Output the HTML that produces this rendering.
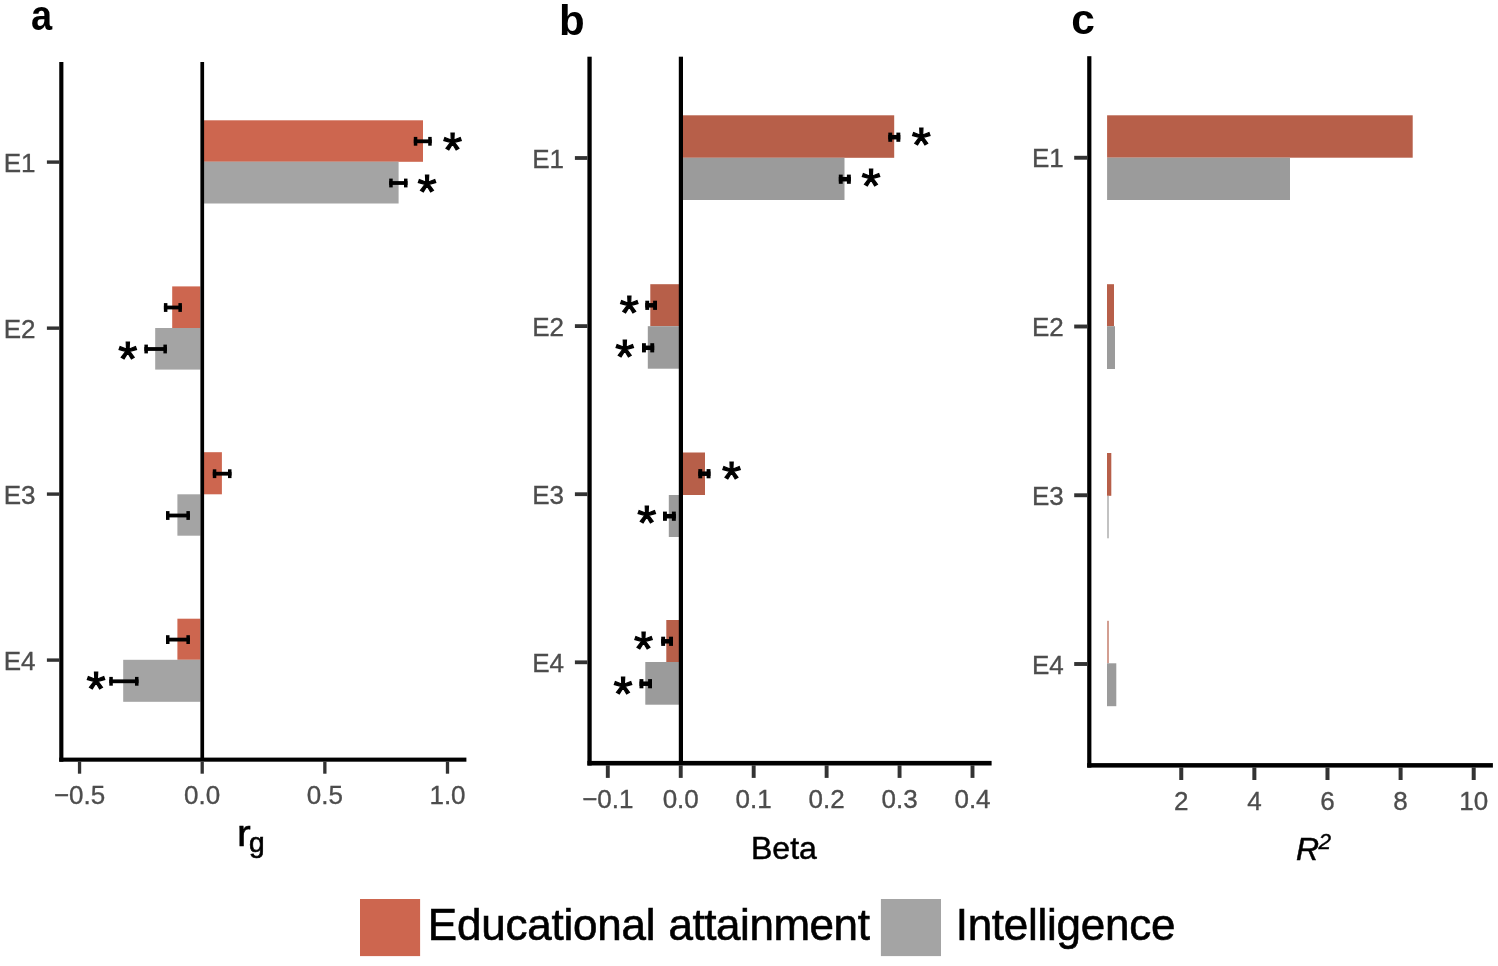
<!DOCTYPE html>
<html lang="en">
<head>
<meta charset="utf-8">
<title>Figure</title>
<style>
html,body{margin:0;padding:0;background:#fff;}
body{width:1498px;height:966px;overflow:hidden;}
svg{display:block;}
svg text{font-family:"Liberation Sans",sans-serif;}
</style>
</head>
<body>
<svg width="1498" height="966" viewBox="0 0 1498 966">
<rect x="0" y="0" width="1498" height="966" fill="#ffffff"/>
<text transform="translate(31.1,29.65) scale(0.894,1)" font-size="42.5" font-weight="bold" fill="#000">a</text>
<rect x="203.70" y="120.30" width="219.30" height="41.50" fill="#cd664f"/>
<rect x="203.70" y="161.70" width="194.90" height="41.80" fill="#a4a4a4"/>
<rect x="172.20" y="286.40" width="28.10" height="41.60" fill="#cd664f"/>
<rect x="155.20" y="328.00" width="45.10" height="41.60" fill="#a4a4a4"/>
<rect x="203.70" y="452.20" width="18.20" height="42.10" fill="#cd664f"/>
<rect x="177.40" y="494.30" width="22.90" height="41.40" fill="#a4a4a4"/>
<rect x="177.40" y="618.70" width="22.90" height="41.10" fill="#cd664f"/>
<rect x="123.20" y="659.80" width="77.10" height="42.00" fill="#a4a4a4"/>
<rect x="59.25" y="62.00" width="4.15" height="699.70" fill="#000"/>
<rect x="200.40" y="62.00" width="3.70" height="698.00" fill="#000"/>
<rect x="59.25" y="757.60" width="407.15" height="4.10" fill="#000"/>
<rect x="77.90" y="761.50" width="3.30" height="12.20" fill="#333333"/>
<rect x="200.55" y="761.50" width="3.30" height="12.20" fill="#333333"/>
<rect x="323.20" y="761.50" width="3.30" height="12.20" fill="#333333"/>
<rect x="445.85" y="761.50" width="3.30" height="12.20" fill="#333333"/>
<rect x="46.90" y="160.40" width="12.60" height="3.40" fill="#333333"/>
<rect x="46.90" y="326.45" width="12.60" height="3.40" fill="#333333"/>
<rect x="46.90" y="492.40" width="12.60" height="3.40" fill="#333333"/>
<rect x="46.90" y="658.40" width="12.60" height="3.40" fill="#333333"/>
<text x="35.60" y="171.50" font-size="26" text-anchor="end" fill="#4d4d4d" font-weight="normal" font-style="normal" stroke="#4d4d4d" stroke-width="0.35">E1</text>
<text x="35.60" y="337.55" font-size="26" text-anchor="end" fill="#4d4d4d" font-weight="normal" font-style="normal" stroke="#4d4d4d" stroke-width="0.35">E2</text>
<text x="35.60" y="503.50" font-size="26" text-anchor="end" fill="#4d4d4d" font-weight="normal" font-style="normal" stroke="#4d4d4d" stroke-width="0.35">E3</text>
<text x="35.60" y="669.50" font-size="26" text-anchor="end" fill="#4d4d4d" font-weight="normal" font-style="normal" stroke="#4d4d4d" stroke-width="0.35">E4</text>
<text x="79.55" y="803.80" font-size="26" text-anchor="middle" fill="#4d4d4d" font-weight="normal" font-style="normal" stroke="#4d4d4d" stroke-width="0.35">−0.5</text>
<text x="202.20" y="803.80" font-size="26" text-anchor="middle" fill="#4d4d4d" font-weight="normal" font-style="normal" stroke="#4d4d4d" stroke-width="0.35">0.0</text>
<text x="324.85" y="803.80" font-size="26" text-anchor="middle" fill="#4d4d4d" font-weight="normal" font-style="normal" stroke="#4d4d4d" stroke-width="0.35">0.5</text>
<text x="447.50" y="803.80" font-size="26" text-anchor="middle" fill="#4d4d4d" font-weight="normal" font-style="normal" stroke="#4d4d4d" stroke-width="0.35">1.0</text>
<rect x="413.80" y="139.40" width="17.90" height="3.80" fill="#000"/>
<rect x="413.80" y="136.90" width="3.50" height="8.80" fill="#000"/>
<rect x="428.20" y="136.90" width="3.50" height="8.80" fill="#000"/>
<rect x="389.20" y="181.10" width="18.30" height="3.80" fill="#000"/>
<rect x="389.20" y="178.60" width="3.50" height="8.80" fill="#000"/>
<rect x="404.00" y="178.60" width="3.50" height="8.80" fill="#000"/>
<rect x="163.90" y="305.60" width="18.00" height="3.80" fill="#000"/>
<rect x="163.90" y="303.10" width="3.50" height="8.80" fill="#000"/>
<rect x="178.40" y="303.10" width="3.50" height="8.80" fill="#000"/>
<rect x="144.40" y="347.10" width="22.50" height="3.80" fill="#000"/>
<rect x="144.40" y="344.60" width="3.50" height="8.80" fill="#000"/>
<rect x="163.40" y="344.60" width="3.50" height="8.80" fill="#000"/>
<rect x="212.80" y="471.80" width="18.70" height="3.80" fill="#000"/>
<rect x="212.80" y="469.30" width="3.50" height="8.80" fill="#000"/>
<rect x="228.00" y="469.30" width="3.50" height="8.80" fill="#000"/>
<rect x="166.00" y="513.60" width="23.90" height="3.80" fill="#000"/>
<rect x="166.00" y="511.10" width="3.50" height="8.80" fill="#000"/>
<rect x="186.40" y="511.10" width="3.50" height="8.80" fill="#000"/>
<rect x="166.00" y="637.70" width="23.90" height="3.80" fill="#000"/>
<rect x="166.00" y="635.20" width="3.50" height="8.80" fill="#000"/>
<rect x="186.40" y="635.20" width="3.50" height="8.80" fill="#000"/>
<rect x="109.30" y="679.40" width="29.20" height="3.80" fill="#000"/>
<rect x="109.30" y="676.90" width="3.50" height="8.80" fill="#000"/>
<rect x="135.00" y="676.90" width="3.50" height="8.80" fill="#000"/>
<text x="452.65" y="165.85" font-size="49" text-anchor="middle" fill="#000" font-weight="normal" font-style="normal" stroke="#000" stroke-width="1.2" stroke-linejoin="miter">*</text>
<text x="427.15" y="207.50" font-size="49" text-anchor="middle" fill="#000" font-weight="normal" font-style="normal" stroke="#000" stroke-width="1.2" stroke-linejoin="miter">*</text>
<text x="127.85" y="374.70" font-size="49" text-anchor="middle" fill="#000" font-weight="normal" font-style="normal" stroke="#000" stroke-width="1.2" stroke-linejoin="miter">*</text>
<text x="96.15" y="704.75" font-size="49" text-anchor="middle" fill="#000" font-weight="normal" font-style="normal" stroke="#000" stroke-width="1.2" stroke-linejoin="miter">*</text>
<text transform="translate(237.0,845.5) scale(1.1,1)" font-size="37.5" fill="#000" stroke="#000" stroke-width="0.55">r</text>
<text x="249.0" y="851.8" font-size="28" fill="#000" stroke="#000" stroke-width="0.7">g</text>
<text x="559.00" y="34.85" font-size="42" text-anchor="start" fill="#000" font-weight="bold" font-style="normal">b</text>
<rect x="683.00" y="115.30" width="211.20" height="42.50" fill="#b75f49"/>
<rect x="683.00" y="157.80" width="161.50" height="42.20" fill="#9b9b9b"/>
<rect x="650.30" y="284.20" width="28.70" height="42.00" fill="#b75f49"/>
<rect x="647.80" y="326.20" width="31.20" height="42.50" fill="#9b9b9b"/>
<rect x="683.00" y="452.50" width="22.00" height="42.50" fill="#b75f49"/>
<rect x="668.80" y="495.00" width="10.20" height="42.00" fill="#9b9b9b"/>
<rect x="666.30" y="620.00" width="12.70" height="42.00" fill="#b75f49"/>
<rect x="645.30" y="662.00" width="33.70" height="42.70" fill="#9b9b9b"/>
<rect x="587.40" y="56.70" width="4.30" height="708.80" fill="#000"/>
<rect x="678.80" y="56.70" width="4.20" height="707.30" fill="#000"/>
<rect x="587.40" y="760.90" width="404.20" height="4.60" fill="#000"/>
<rect x="605.85" y="765.30" width="3.90" height="12.60" fill="#333333"/>
<rect x="678.79" y="765.30" width="3.90" height="12.60" fill="#333333"/>
<rect x="751.73" y="765.30" width="3.90" height="12.60" fill="#333333"/>
<rect x="824.67" y="765.30" width="3.90" height="12.60" fill="#333333"/>
<rect x="897.61" y="765.30" width="3.90" height="12.60" fill="#333333"/>
<rect x="970.55" y="765.30" width="3.90" height="12.60" fill="#333333"/>
<rect x="574.90" y="156.10" width="12.60" height="3.80" fill="#333333"/>
<rect x="574.90" y="324.20" width="12.60" height="3.80" fill="#333333"/>
<rect x="574.90" y="492.30" width="12.60" height="3.80" fill="#333333"/>
<rect x="574.90" y="660.40" width="12.60" height="3.80" fill="#333333"/>
<text x="564.05" y="167.70" font-size="26" text-anchor="end" fill="#4d4d4d" font-weight="normal" font-style="normal" stroke="#4d4d4d" stroke-width="0.35">E1</text>
<text x="564.05" y="335.80" font-size="26" text-anchor="end" fill="#4d4d4d" font-weight="normal" font-style="normal" stroke="#4d4d4d" stroke-width="0.35">E2</text>
<text x="564.05" y="503.90" font-size="26" text-anchor="end" fill="#4d4d4d" font-weight="normal" font-style="normal" stroke="#4d4d4d" stroke-width="0.35">E3</text>
<text x="564.05" y="672.00" font-size="26" text-anchor="end" fill="#4d4d4d" font-weight="normal" font-style="normal" stroke="#4d4d4d" stroke-width="0.35">E4</text>
<text x="607.80" y="807.80" font-size="26" text-anchor="middle" fill="#4d4d4d" font-weight="normal" font-style="normal" stroke="#4d4d4d" stroke-width="0.35">−0.1</text>
<text x="680.74" y="807.80" font-size="26" text-anchor="middle" fill="#4d4d4d" font-weight="normal" font-style="normal" stroke="#4d4d4d" stroke-width="0.35">0.0</text>
<text x="753.68" y="807.80" font-size="26" text-anchor="middle" fill="#4d4d4d" font-weight="normal" font-style="normal" stroke="#4d4d4d" stroke-width="0.35">0.1</text>
<text x="826.62" y="807.80" font-size="26" text-anchor="middle" fill="#4d4d4d" font-weight="normal" font-style="normal" stroke="#4d4d4d" stroke-width="0.35">0.2</text>
<text x="899.56" y="807.80" font-size="26" text-anchor="middle" fill="#4d4d4d" font-weight="normal" font-style="normal" stroke="#4d4d4d" stroke-width="0.35">0.3</text>
<text x="972.50" y="807.80" font-size="26" text-anchor="middle" fill="#4d4d4d" font-weight="normal" font-style="normal" stroke="#4d4d4d" stroke-width="0.35">0.4</text>
<rect x="888.30" y="134.95" width="12.00" height="4.50" fill="#000"/>
<rect x="888.30" y="132.60" width="3.90" height="9.20" fill="#000"/>
<rect x="896.40" y="132.60" width="3.90" height="9.20" fill="#000"/>
<rect x="838.80" y="176.95" width="12.00" height="4.50" fill="#000"/>
<rect x="838.80" y="174.60" width="3.90" height="9.20" fill="#000"/>
<rect x="846.90" y="174.60" width="3.90" height="9.20" fill="#000"/>
<rect x="645.30" y="303.05" width="11.70" height="4.50" fill="#000"/>
<rect x="645.30" y="300.70" width="3.90" height="9.20" fill="#000"/>
<rect x="653.10" y="300.70" width="3.90" height="9.20" fill="#000"/>
<rect x="642.00" y="345.55" width="12.20" height="4.50" fill="#000"/>
<rect x="642.00" y="343.20" width="3.90" height="9.20" fill="#000"/>
<rect x="650.30" y="343.20" width="3.90" height="9.20" fill="#000"/>
<rect x="698.30" y="471.45" width="12.20" height="4.50" fill="#000"/>
<rect x="698.30" y="469.10" width="3.90" height="9.20" fill="#000"/>
<rect x="706.60" y="469.10" width="3.90" height="9.20" fill="#000"/>
<rect x="663.00" y="513.95" width="12.80" height="4.50" fill="#000"/>
<rect x="663.00" y="511.60" width="3.90" height="9.20" fill="#000"/>
<rect x="671.90" y="511.60" width="3.90" height="9.20" fill="#000"/>
<rect x="661.20" y="639.05" width="11.80" height="4.50" fill="#000"/>
<rect x="661.20" y="636.70" width="3.90" height="9.20" fill="#000"/>
<rect x="669.10" y="636.70" width="3.90" height="9.20" fill="#000"/>
<rect x="639.50" y="681.45" width="12.50" height="4.50" fill="#000"/>
<rect x="639.50" y="679.10" width="3.90" height="9.20" fill="#000"/>
<rect x="648.10" y="679.10" width="3.90" height="9.20" fill="#000"/>
<text x="921.40" y="160.60" font-size="49" text-anchor="middle" fill="#000" font-weight="normal" font-style="normal" stroke="#000" stroke-width="1.2" stroke-linejoin="miter">*</text>
<text x="871.00" y="201.90" font-size="49" text-anchor="middle" fill="#000" font-weight="normal" font-style="normal" stroke="#000" stroke-width="1.2" stroke-linejoin="miter">*</text>
<text x="629.35" y="329.25" font-size="49" text-anchor="middle" fill="#000" font-weight="normal" font-style="normal" stroke="#000" stroke-width="1.2" stroke-linejoin="miter">*</text>
<text x="624.75" y="372.50" font-size="49" text-anchor="middle" fill="#000" font-weight="normal" font-style="normal" stroke="#000" stroke-width="1.2" stroke-linejoin="miter">*</text>
<text x="731.50" y="495.45" font-size="49" text-anchor="middle" fill="#000" font-weight="normal" font-style="normal" stroke="#000" stroke-width="1.2" stroke-linejoin="miter">*</text>
<text x="646.90" y="539.25" font-size="49" text-anchor="middle" fill="#000" font-weight="normal" font-style="normal" stroke="#000" stroke-width="1.2" stroke-linejoin="miter">*</text>
<text x="643.60" y="665.45" font-size="49" text-anchor="middle" fill="#000" font-weight="normal" font-style="normal" stroke="#000" stroke-width="1.2" stroke-linejoin="miter">*</text>
<text x="623.15" y="709.75" font-size="49" text-anchor="middle" fill="#000" font-weight="normal" font-style="normal" stroke="#000" stroke-width="1.2" stroke-linejoin="miter">*</text>
<text x="751.00" y="859.40" font-size="32" text-anchor="start" fill="#000" font-weight="normal" font-style="normal" stroke="#000" stroke-width="0.5">Beta</text>
<text x="1071.35" y="33.75" font-size="42.5" text-anchor="start" fill="#000" font-weight="bold" font-style="normal">c</text>
<rect x="1107.10" y="115.30" width="305.60" height="42.40" fill="#b75f49"/>
<rect x="1107.10" y="157.70" width="182.90" height="42.30" fill="#9b9b9b"/>
<rect x="1107.00" y="284.20" width="7.00" height="42.00" fill="#b75f49"/>
<rect x="1107.00" y="326.20" width="8.00" height="42.80" fill="#9b9b9b"/>
<rect x="1107.00" y="453.00" width="4.30" height="42.80" fill="#b75f49"/>
<rect x="1107.40" y="495.80" width="1.20" height="42.50" fill="#9b9b9b"/>
<rect x="1107.40" y="620.80" width="1.20" height="42.50" fill="#b75f49"/>
<rect x="1107.00" y="663.30" width="9.30" height="42.90" fill="#9b9b9b"/>
<rect x="1087.20" y="56.20" width="4.20" height="711.40" fill="#000"/>
<rect x="1087.20" y="763.10" width="405.70" height="4.50" fill="#000"/>
<rect x="1179.25" y="767.40" width="4.00" height="12.60" fill="#333333"/>
<rect x="1252.36" y="767.40" width="4.00" height="12.60" fill="#333333"/>
<rect x="1325.48" y="767.40" width="4.00" height="12.60" fill="#333333"/>
<rect x="1398.60" y="767.40" width="4.00" height="12.60" fill="#333333"/>
<rect x="1471.70" y="767.40" width="4.00" height="12.60" fill="#333333"/>
<rect x="1074.20" y="155.80" width="13.30" height="3.90" fill="#333333"/>
<rect x="1074.20" y="324.55" width="13.30" height="3.90" fill="#333333"/>
<rect x="1074.20" y="493.30" width="13.30" height="3.90" fill="#333333"/>
<rect x="1074.20" y="662.05" width="13.30" height="3.90" fill="#333333"/>
<text x="1063.85" y="167.45" font-size="26" text-anchor="end" fill="#4d4d4d" font-weight="normal" font-style="normal" stroke="#4d4d4d" stroke-width="0.35">E1</text>
<text x="1063.85" y="336.20" font-size="26" text-anchor="end" fill="#4d4d4d" font-weight="normal" font-style="normal" stroke="#4d4d4d" stroke-width="0.35">E2</text>
<text x="1063.85" y="504.95" font-size="26" text-anchor="end" fill="#4d4d4d" font-weight="normal" font-style="normal" stroke="#4d4d4d" stroke-width="0.35">E3</text>
<text x="1063.85" y="673.70" font-size="26" text-anchor="end" fill="#4d4d4d" font-weight="normal" font-style="normal" stroke="#4d4d4d" stroke-width="0.35">E4</text>
<text x="1181.25" y="809.90" font-size="26" text-anchor="middle" fill="#4d4d4d" font-weight="normal" font-style="normal" stroke="#4d4d4d" stroke-width="0.35">2</text>
<text x="1254.36" y="809.90" font-size="26" text-anchor="middle" fill="#4d4d4d" font-weight="normal" font-style="normal" stroke="#4d4d4d" stroke-width="0.35">4</text>
<text x="1327.48" y="809.90" font-size="26" text-anchor="middle" fill="#4d4d4d" font-weight="normal" font-style="normal" stroke="#4d4d4d" stroke-width="0.35">6</text>
<text x="1400.60" y="809.90" font-size="26" text-anchor="middle" fill="#4d4d4d" font-weight="normal" font-style="normal" stroke="#4d4d4d" stroke-width="0.35">8</text>
<text x="1473.70" y="809.90" font-size="26" text-anchor="middle" fill="#4d4d4d" font-weight="normal" font-style="normal" stroke="#4d4d4d" stroke-width="0.35">10</text>
<text x="1296.00" y="860.00" font-size="32" text-anchor="start" fill="#000" font-weight="normal" font-style="italic" stroke="#000" stroke-width="0.5">R</text>
<text x="1318.60" y="848.60" font-size="22.5" text-anchor="start" fill="#000" font-weight="normal" font-style="italic" stroke="#000" stroke-width="0.4">2</text>
<rect x="360.00" y="899.00" width="60.10" height="57.10" fill="#cd664f"/>
<rect x="880.90" y="899.00" width="60.10" height="57.10" fill="#a4a4a4"/>
<text x="427.80" y="939.50" font-size="44" text-anchor="start" fill="#000" font-weight="normal" font-style="normal" stroke="#000" stroke-width="0.6" letter-spacing="-0.22">Educational</text>
<text x="668.50" y="939.50" font-size="44" text-anchor="start" fill="#000" font-weight="normal" font-style="normal" stroke="#000" stroke-width="0.6" letter-spacing="-0.455">attainment</text>
<text x="955.70" y="939.50" font-size="44" text-anchor="start" fill="#000" font-weight="normal" font-style="normal" stroke="#000" stroke-width="0.6" letter-spacing="-0.255">Intelligence</text>
</svg>
</body>
</html>
